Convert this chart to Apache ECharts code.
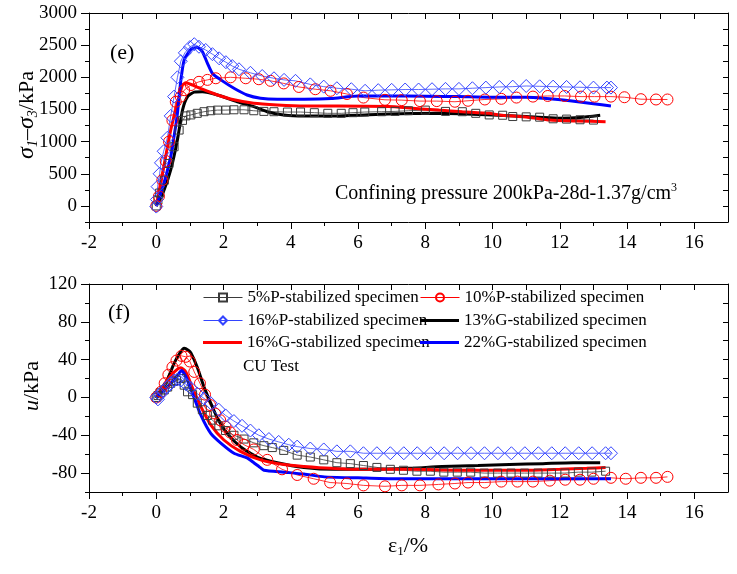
<!DOCTYPE html>
<html>
<head>
<meta charset="utf-8">
<script src="https://cdn.jsdelivr.net/npm/echarts@6/dist/echarts.min.js"></script>
<style>
  html, body { margin: 0; padding: 0; background: #fff; }
  #chart { width: 737px; height: 574px; }
</style>
</head>
<body>
<div id="chart"></div>
<script>
const FONT = 'Liberation Serif';

// series names (legend)
const names = [
  '5%P-stabilized specimen',
  '10%P-stabilized specimen',
  '16%P-stabilized specimen',
  '13%G-stabilized specimen',
  '16%G-stabilized specimen',
  '22%G-stabilized specimen'
];

// tick values
const xLabels = [-2, 0, 2, 4, 6, 8, 10, 12, 14, 16];
const xMinor = [-1, 1, 3, 5, 7, 9, 11, 13, 15];
const xMirror = [-1, 0, 1, 2, 3, 4, 5, 6, 7, 8, 9, 10, 11, 12, 13, 14, 15, 16];
const stressLabels = [0, 500, 1000, 1500, 2000, 2500, 3000];
const stressMinor = [-250, 250, 750, 1250, 1750, 2250, 2750];
const stressMirror = [0, 250, 500, 750, 1000, 1250, 1500, 1750, 2000, 2250, 2500, 2750];
const poreLabels = [-80, -40, 0, 40, 80, 120];
const poreMinor = [-100, -60, -20, 20, 60, 100];
const poreMirror = [-80, -60, -40, -20, 0, 20, 40, 60, 80, 100];

// (e) deviator stress, kPa
const p5Stress = [[0,0],[0.05,90],[0.1,200],[0.24,400],[0.38,660],[0.53,920],[0.68,1180],[0.78,1330],[0.88,1400],[1.03,1415],[1.22,1440],[1.42,1465],[1.62,1480],[1.82,1490],[2.07,1490],[2.31,1495],[2.61,1495],[2.9,1480],[3.2,1470],[3.5,1465],[3.9,1460],[4.29,1460],[4.7,1450],[5.1,1440],[5.5,1440],[5.85,1450],[6.2,1460],[6.7,1465],[7.1,1470],[7.5,1480],[8.0,1490],[8.6,1470],[9.1,1465],[9.5,1440],[9.9,1415],[10.3,1410],[10.6,1390],[11.0,1385],[11.4,1380],[11.8,1355],[12.2,1350],[12.6,1340],[13.0,1335]];
const p10Stress = [[0,0],[0.08,150],[0.18,400],[0.28,700],[0.38,1000],[0.48,1330],[0.58,1620],[0.73,1700],[0.83,1800],[1.03,1880],[1.27,1930],[1.52,1960],[1.77,1985],[2.21,2000],[2.66,1985],[3.05,1970],[3.4,1945],[3.79,1905],[4.24,1850],[4.73,1815],[5.18,1790],[5.67,1740],[6.16,1685],[6.8,1650],[7.3,1645],[7.84,1630],[8.34,1630],[8.88,1620],[9.27,1635],[9.77,1655],[10.26,1665],[10.71,1685],[11.2,1700],[11.64,1710],[12.14,1710],[12.63,1700],[13.03,1700],[13.52,1700],[13.92,1690],[14.41,1660],[14.86,1655],[15.2,1655]];
const p16Stress = [[0,-10],[0.02,100],[0.04,300],[0.1,500],[0.14,670],[0.22,850],[0.33,1060],[0.43,1400],[0.53,1700],[0.63,2000],[0.73,2250],[0.85,2380],[1.0,2470],[1.13,2515],[1.27,2475],[1.47,2425],[1.67,2360],[1.87,2295],[2.07,2235],[2.26,2175],[2.46,2125],[2.8,2070],[3.15,2020],[3.5,1985],[3.8,1960],[4.14,1945],[4.58,1890],[4.98,1855],[5.37,1830],[5.8,1815],[6.21,1790],[6.6,1800],[7.0,1805],[7.4,1810],[7.8,1810],[8.2,1815],[8.6,1820],[9.0,1820],[9.4,1830],[9.8,1840],[10.2,1850],[10.6,1855],[11.0,1865],[11.4,1860],[11.8,1855],[12.2,1850],[12.6,1845],[13.0,1840],[13.4,1840],[13.52,1840]];
const g13Stress = [[0,0],[0.2,200],[0.43,560],[0.63,1030],[0.78,1490],[0.93,1700],[1.13,1770],[1.37,1775],[1.82,1725],[2.41,1620],[2.9,1545],[3.3,1465],[3.79,1415],[4.4,1400],[5.4,1400],[6.0,1410],[6.9,1430],[8.3,1440],[9.2,1430],[10.0,1415],[11.0,1390],[11.94,1365],[12.6,1375],[13.2,1410]];
const g16Stress = [[0,0],[0.24,660],[0.43,1180],[0.63,1600],[0.78,1880],[0.88,1915],[1.08,1880],[1.37,1815],[1.82,1725],[2.31,1650],[2.9,1595],[3.6,1570],[4.4,1555],[5.4,1555],[6.9,1545],[7.6,1520],[8.4,1490],[9.1,1465],[9.9,1440],[10.2,1415],[11.05,1380],[11.7,1335],[12.5,1320],[13.36,1310]];
const g22Stress = [[0,0],[0.2,300],[0.43,770],[0.55,1150],[0.63,1440],[0.73,1950],[0.83,2270],[1.03,2435],[1.22,2465],[1.37,2400],[1.52,2220],[1.67,2060],[1.92,1960],[2.31,1830],[2.7,1725],[3.1,1675],[3.6,1660],[4.4,1660],[5.2,1670],[6.0,1710],[6.9,1710],[8.0,1705],[9.0,1700],[9.9,1690],[11.0,1690],[11.6,1670],[12.3,1635],[13.0,1590],[13.52,1555]];

// (f) pore water pressure, kPa
const p5Pore = [[0,0],[0.05,2],[0.12,5],[0.24,8],[0.34,11],[0.43,15],[0.52,17],[0.6,18],[0.73,20],[0.83,13],[0.93,6],[1.08,3],[1.22,-6],[1.37,-13],[1.52,-19],[1.67,-24],[1.86,-30],[2.06,-35],[2.31,-40],[2.61,-44],[2.9,-48],[3.2,-51],[3.45,-53],[3.79,-56],[4.19,-61],[4.58,-63],[4.98,-66],[5.37,-69],[5.77,-70],[6.16,-72],[6.56,-74],[6.96,-76],[7.35,-77],[7.75,-78],[8.15,-78],[8.55,-79],[8.95,-79],[9.35,-79],[9.75,-80],[10.15,-80],[10.55,-80],[10.95,-80],[11.35,-80],[11.75,-80],[12.15,-80],[12.55,-79],[12.95,-79],[13.36,-78]];
const p10Pore = [[0,0],[0.14,6],[0.25,15],[0.36,24],[0.48,32],[0.6,39],[0.75,44],[0.88,43],[1.0,38],[1.13,27],[1.3,15],[1.45,3],[1.6,-8],[1.75,-17],[1.9,-24],[2.06,-31],[2.2,-37],[2.4,-45],[2.61,-50],[2.9,-55],[3.3,-66],[3.74,-76],[4.19,-82],[4.68,-86],[5.17,-90],[5.67,-91],[6.16,-93],[6.8,-94],[7.3,-93],[7.84,-93],[8.39,-92],[8.88,-91],[9.27,-90],[9.77,-90],[10.26,-89],[10.74,-89],[11.2,-89],[11.7,-88],[12.16,-87],[12.6,-87],[13.0,-86],[13.52,-85],[13.96,-86],[14.41,-85],[14.86,-85],[15.2,-84]];
const p16Pore = [[0,0],[0.05,-2],[0.12,3],[0.2,7],[0.33,11],[0.43,15],[0.53,18],[0.63,19],[0.73,18],[0.88,14],[1.03,10],[1.22,4],[1.42,-1],[1.62,-6],[1.86,-13],[2.06,-19],[2.31,-25],[2.55,-30],[2.8,-35],[3.05,-40],[3.35,-44],[3.64,-47],[3.94,-50],[4.19,-52],[4.58,-54],[4.98,-55],[5.37,-57],[5.77,-57],[6.16,-59],[6.56,-59],[6.96,-59],[7.36,-59],[7.76,-59],[8.16,-59],[8.56,-59],[8.96,-59],[9.36,-59],[9.76,-59],[10.16,-59],[10.56,-59],[10.96,-59],[11.36,-59],[11.76,-59],[12.16,-59],[12.56,-59],[12.96,-59],[13.36,-59],[13.52,-59]];
const g13Pore = [[0,-1],[0.24,11],[0.53,36],[0.7,47],[0.83,52],[0.95,50],[1.03,47],[1.22,32],[1.42,11],[1.62,-6],[1.82,-22],[2.11,-38],[2.5,-52],[3.0,-63],[3.6,-69],[4.39,-74],[5.3,-76],[6.3,-76],[7.5,-75],[8.5,-73],[9.57,-72],[10.5,-71],[11.5,-70],[12.4,-69],[13.2,-69]];
const g16Pore = [[0,0],[0.2,12],[0.43,23],[0.63,30],[0.73,31.5],[0.88,27],[1.08,10],[1.33,-10],[1.62,-29],[2.01,-45],[2.5,-57],[3.1,-66],[3.79,-71],[4.39,-73],[5.2,-75],[6.0,-76],[7.5,-76],[9.0,-77],[10.0,-77],[11.0,-77],[12.0,-76],[12.8,-75],[13.36,-74]];
const g22Pore = [[0,0],[0.33,11],[0.63,23],[0.75,28.5],[0.88,22],[1.08,4],[1.33,-19],[1.62,-38],[1.91,-48],[2.31,-59],[2.7,-64],[2.9,-69],[3.05,-73],[3.2,-77],[3.79,-79],[4.39,-81],[5.0,-84],[6.0,-85],[7.0,-86],[8.0,-86],[9.0,-86],[10.0,-86],[11.0,-86],[12.0,-86],[13.0,-86],[13.52,-86]];

const BLACK = '#000', GREY = '#3a3a3a', RED = '#ff0000', BLUE = '#0000ff', LBLUE = '#3344ff';

const plain = v => String(v);

function xAxes(grid) {
  return [
    { type: 'value', gridIndex: grid, min: -2, max: 17, position: 'bottom',
      axisLine: { onZero: false, lineStyle: { color: BLACK, width: 1 } },
      axisTick: { inside: false, length: 7, customValues: xLabels, lineStyle: { color: BLACK } },
      axisLabel: { customValues: xLabels, formatter: plain, margin: 12, color: BLACK, fontFamily: FONT, fontSize: 19 },
      splitLine: { show: false } },
    { type: 'value', gridIndex: grid, min: -2, max: 17, position: 'bottom',
      axisLine: { show: false, onZero: false },
      axisTick: { inside: false, length: 4, customValues: xMinor, lineStyle: { color: BLACK } },
      axisLabel: { show: false }, splitLine: { show: false } },
    { type: 'value', gridIndex: grid, min: -2, max: 17, position: 'top',
      axisLine: { onZero: false, lineStyle: { color: BLACK, width: 1 } },
      axisTick: { inside: true, length: 6, customValues: xMirror, lineStyle: { color: BLACK } },
      axisLabel: { show: false }, splitLine: { show: false } }
  ];
}

function yAxes(grid, min, max, labels, minor, mirror) {
  return [
    { type: 'value', gridIndex: grid, min: min, max: max, position: 'left',
      axisLine: { show: true, onZero: false, lineStyle: { color: BLACK, width: 1 } },
      axisTick: { show: true, inside: false, length: 8, customValues: labels, lineStyle: { color: BLACK } },
      axisLabel: { customValues: labels, formatter: plain, margin: 12, color: BLACK, fontFamily: FONT, fontSize: 19 },
      splitLine: { show: false } },
    { type: 'value', gridIndex: grid, min: min, max: max, position: 'left',
      axisLine: { show: false, onZero: false },
      axisTick: { show: true, inside: false, length: 4, customValues: minor, lineStyle: { color: BLACK } },
      axisLabel: { show: false }, splitLine: { show: false } },
    { type: 'value', gridIndex: grid, min: min, max: max, position: 'right',
      axisLine: { show: true, onZero: false, lineStyle: { color: BLACK, width: 1 } },
      axisTick: { show: true, inside: true, length: 5, customValues: mirror, lineStyle: { color: BLACK } },
      axisLabel: { show: false }, splitLine: { show: false } }
  ];
}

function markerSeries(name, data, xi, yi, symbol, size, color) {
  return {
    name: name, type: 'line', xAxisIndex: xi, yAxisIndex: yi, data: data,
    symbol: symbol, symbolSize: size, showSymbol: true,
    lineStyle: { color: color, width: 0.8 },
    itemStyle: { color: 'rgba(255,255,255,0)', borderColor: color, borderWidth: 1 },
    emphasis: { disabled: true }
  };
}

function curveSeries(name, data, xi, yi, color) {
  return {
    name: name, type: 'line', xAxisIndex: xi, yAxisIndex: yi, data: data,
    symbol: 'none', smooth: 0.2,
    lineStyle: { color: color, width: 3 },
    itemStyle: { color: color },
    emphasis: { disabled: true }
  };
}

// marker series keep their line+symbol icon; solid curves get a plain thick bar
function legendAt(name, left, top, solid) {
  return {
    data: [solid ? { name: name, icon: 'rect' } : name],
    left: left, top: top, padding: 0,
    itemWidth: 39, itemHeight: solid ? 3 : 10, selectedMode: false,
    lineStyle: { width: 1 },
    textStyle: { fontFamily: FONT, fontSize: 17, color: BLACK }
  };
}

const chart = echarts.init(document.getElementById('chart'));

chart.setOption({
  animation: false,
  backgroundColor: '#fff',
  grid: [
    { left: 89, top: 13, width: 639, height: 209 },
    { left: 89, top: 284, width: 639, height: 208 }
  ],
  xAxis: xAxes(0).concat(xAxes(1)),
  yAxis: yAxes(0, -250, 3000, stressLabels, stressMinor, stressMirror)
    .concat(yAxes(1, -100, 120, poreLabels, poreMinor, poreMirror)),
  legend: [
    legendAt(names[0], 203, 289, false),
    legendAt(names[1], 420, 289, false),
    legendAt(names[2], 203, 312, false),
    legendAt(names[3], 420, 312, true),
    legendAt(names[4], 203, 334, true),
    legendAt(names[5], 420, 334, true)
  ],
  series: [
    markerSeries(names[0], p5Stress, 0, 0, 'rect', 8, GREY),
    markerSeries(names[1], p10Stress, 0, 0, 'circle', 11, RED),
    markerSeries(names[2], p16Stress, 0, 0, 'diamond', 13, LBLUE),
    curveSeries(names[3], g13Stress, 0, 0, BLACK),
    curveSeries(names[4], g16Stress, 0, 0, RED),
    curveSeries(names[5], g22Stress, 0, 0, BLUE),
    markerSeries(names[0], p5Pore, 3, 3, 'rect', 8, GREY),
    markerSeries(names[1], p10Pore, 3, 3, 'circle', 11, RED),
    markerSeries(names[2], p16Pore, 3, 3, 'diamond', 13, LBLUE),
    curveSeries(names[3], g13Pore, 3, 3, BLACK),
    curveSeries(names[4], g16Pore, 3, 3, RED),
    curveSeries(names[5], g22Pore, 3, 3, BLUE)
  ],
  graphic: [
    { type: 'text', x: 110, y: 53,
      style: { text: '(e)', font: '22px "Liberation Serif"', fill: BLACK, verticalAlign: 'middle', textVerticalAlign: 'middle' } },
    { type: 'text', x: 108, y: 313,
      style: { text: '(f)', font: '22px "Liberation Serif"', fill: BLACK, verticalAlign: 'middle', textVerticalAlign: 'middle' } },
    { type: 'text', x: 335, y: 194,
      style: { text: 'Confining pressure 200kPa-28d-1.37g/cm{sup|3}', font: '20px "Liberation Serif"', fill: BLACK,
        verticalAlign: 'middle', textVerticalAlign: 'middle',
        rich: { sup: { fontFamily: FONT, fontSize: 12, padding: [0, 0, 12, 0] } } } },
    { type: 'text', x: 243, y: 367,
      style: { text: 'CU Test', font: '17px "Liberation Serif"', fill: BLACK, verticalAlign: 'middle', textVerticalAlign: 'middle' } },
    { type: 'text', x: 27, y: 115, rotation: Math.PI / 2,
      style: { text: '{s|σ}{sub|1}{n|–}{s|σ}{sub|3}{n|/kPa}', fill: BLACK,
        align: 'center', textAlign: 'center', verticalAlign: 'middle', textVerticalAlign: 'middle',
        rich: {
          s: { fontFamily: FONT, fontSize: 24, fontStyle: 'italic' },
          sub: { fontFamily: FONT, fontSize: 14, fontStyle: 'italic', padding: [12, 0, 0, 0] },
          n: { fontFamily: FONT, fontSize: 22 }
        } } },
    { type: 'text', x: 32, y: 386, rotation: Math.PI / 2,
      style: { text: '{i|u}{n|/kPa}', fill: BLACK,
        align: 'center', textAlign: 'center', verticalAlign: 'middle', textVerticalAlign: 'middle',
        rich: {
          i: { fontFamily: FONT, fontSize: 22, fontStyle: 'italic' },
          n: { fontFamily: FONT, fontSize: 22 }
        } } },
    { type: 'text', x: 408, y: 546,
      style: { text: '{n|ε}{sub|1}{n|/%}', fill: BLACK,
        align: 'center', textAlign: 'center', verticalAlign: 'middle', textVerticalAlign: 'middle',
        rich: {
          n: { fontFamily: FONT, fontSize: 22 },
          sub: { fontFamily: FONT, fontSize: 13, padding: [12, 0, 0, 0] }
        } } }
  ]
});
</script>
</body>
</html>
